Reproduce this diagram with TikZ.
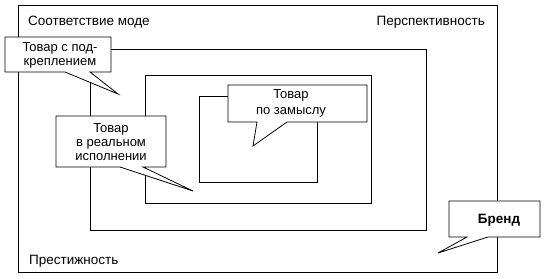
\documentclass[tikz,border=0pt]{standalone}
\usepackage{fontspec}
\setmainfont{Liberation Sans}
\begin{document}
\begin{tikzpicture}[x=1pt,y=-1pt,
  frame/.style={draw=black,line width=0.8pt},
  bubble/.style={draw=black,fill=white,line width=0.8pt,line join=miter},
  lbl/.style={inner sep=0pt,font=\fontsize{13.5}{14}\selectfont},
  btxt/.style={inner sep=0pt,align=center,font=\fontsize{13}{14}\selectfont}]
\useasboundingbox (0,0) rectangle (545,278);
% nested frames
\draw[frame] (18,5) rectangle (497,272);
\draw[frame] (90,49) rectangle (426,230);
\draw[frame] (145,75) rectangle (371,203);
\draw[frame] (199,96) rectangle (317,182);
% corner labels
\node[lbl,anchor=base west] (mode) at (28,26) {Соответствие моде};
\node[lbl,anchor=base east] (persp) at (485,26) {Перспективность};
\node[lbl,anchor=base west] (prest) at (29,264) {Престижность};
% callout: augmented product
\draw[bubble] (5,37) -- (111,37) -- (111,72) -- (90,72) coordinate (a1) -- (118,94) coordinate (atip) -- (65,72) coordinate (a2) -- (5,72) -- cycle;
\node[btxt] (aug) at (60,55) {Товар с под-\\креплением};
% callout: real product
\draw[bubble] (56,116) -- (166,116) -- (166,167) -- (143,167) coordinate (r1) -- (193,191) coordinate (rtip) -- (120,167) coordinate (r2) -- (56,167) -- cycle;
\node[btxt] (real) at (111,142) {Товар\\в реальном\\исполнении};
% callout: product concept
\draw[bubble] (228,85) -- (367,85) -- (367,122) -- (287,122) coordinate (c1) -- (253,146) coordinate (ctip) -- (257,122) coordinate (c2) -- (228,122) -- cycle;
\node[btxt,font=\fontsize{13}{16}\selectfont] (concept) at (291,103) {Товар\\по замыслу};
% callout: brand
\draw[bubble] (449,201) -- (540,201) -- (540,237) -- (488,237) coordinate (b1) -- (438,253) coordinate (btip) -- (467,237) coordinate (b2) -- (449,237) -- cycle;
\node[btxt,font=\fontsize{13.5}{14}\selectfont\bfseries] (brand) at (499,220) {Бренд};
\end{tikzpicture}
\end{document}
